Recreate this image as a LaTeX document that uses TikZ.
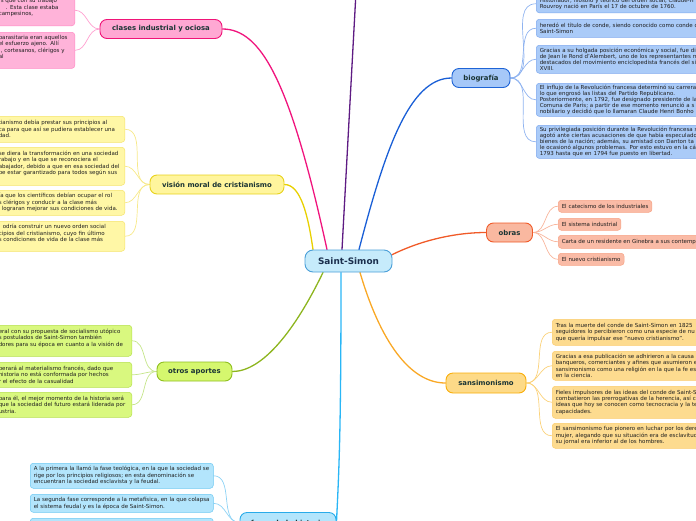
\documentclass[tikz,border=0pt]{standalone}
\usepackage{fontspec}
\setmainfont{DejaVu Sans}
\usetikzlibrary{calc}
\pgfdeclarelayer{bg}
\pgfsetlayers{bg,main}
\definecolor{cenF}{HTML}{C6EBFB}\definecolor{cenD}{HTML}{4A9FD8}\definecolor{cenT}{HTML}{1B2F4D}
\definecolor{lblT}{HTML}{1A3434}\definecolor{leafT}{HTML}{1E1E1E}
\definecolor{pkF}{HTML}{FFA8D3}\definecolor{pkD}{HTML}{F01478}\definecolor{pkE}{HTML}{F0147D}
\definecolor{pkLF}{HTML}{FFB3D9}\definecolor{pkLD}{HTML}{FF8AC4}\definecolor{pkLE}{HTML}{FF9FCF}
\definecolor{ylF}{HTML}{FFF59D}\definecolor{ylD}{HTML}{E8D21C}\definecolor{ylE}{HTML}{E8D000}
\definecolor{ylLF}{HTML}{FFF7A6}\definecolor{ylLD}{HTML}{F5E36A}\definecolor{ylLE}{HTML}{F7E98A}
\definecolor{grF}{HTML}{D5F76E}\definecolor{grD}{HTML}{8FBF1F}\definecolor{grE}{HTML}{8DB51F}
\definecolor{grLF}{HTML}{D9F87F}\definecolor{grLD}{HTML}{B5E04C}\definecolor{grLE}{HTML}{C5E58A}
\definecolor{cyF}{HTML}{B3E5FC}\definecolor{cyD}{HTML}{29ABE9}\definecolor{cyE}{HTML}{29B6F6}
\definecolor{cyLF}{HTML}{B3E5FC}\definecolor{cyLD}{HTML}{6CC8F2}\definecolor{cyLE}{HTML}{8ED3F5}
\definecolor{blF}{HTML}{A6C8F8}\definecolor{blD}{HTML}{1E64D6}\definecolor{blE}{HTML}{1A5FD6}
\definecolor{blLF}{HTML}{AACBF8}\definecolor{blLD}{HTML}{7FA9EE}\definecolor{blLE}{HTML}{8FB3F0}
\definecolor{orF}{HTML}{F9B8A0}\definecolor{orD}{HTML}{F05A28}\definecolor{orE}{HTML}{F05A28}
\definecolor{orLF}{HTML}{FABBA6}\definecolor{orLD}{HTML}{F7A486}\definecolor{orLE}{HTML}{F8B59C}
\definecolor{saF}{HTML}{FDDA88}\definecolor{saD}{HTML}{F9AE0A}\definecolor{saE}{HTML}{F9A825}
\definecolor{saLF}{HTML}{FDDB8F}\definecolor{saLD}{HTML}{FBCB6B}\definecolor{saLE}{HTML}{FBD27A}
\definecolor{puE}{HTML}{5E1B83}
\tikzset{
  mainnode/.style={draw, line width=0.9pt, rounded corners=7pt, inner sep=0pt, minimum height=19pt, text=lblT, font=\bfseries\fontsize{6.9}{8}\selectfont},
  leafbox/.style={draw, line width=0.5pt, rounded corners=3pt, inner xsep=3.5pt, inner ysep=3pt, align=left, text=leafT, font=\fontsize{5.5}{6.5}\selectfont},
  bioleaf/.style={leafbox, inner ysep=2pt, font=\fontsize{5.5}{5.9}\selectfont},
  sanleaf/.style={leafbox, inner ysep=2pt, font=\fontsize{5.5}{6.3}\selectfont},
  mainedge/.style={line width=1.3pt, line cap=round},
  leafedge/.style={line width=0.7pt},
}
\begin{document}
\begin{tikzpicture}[x=1pt,y=-1pt]
\useasboundingbox (0,0) rectangle (696,520);
\clip (0,0) rectangle (696,520);
% central and main nodes
\node[mainnode, fill=cenF, draw=cenD, text=cenT, font=\bfseries\fontsize{8.9}{10}\selectfont, minimum width=87pt, minimum height=22pt, rounded corners=8pt] (c) at (348.5,261) {Saint-Simon};
\node[mainnode, fill=pkF, draw=pkD, minimum width=122pt] (cl) at (161,29) {clases industrial y ociosa};
\node[mainnode, fill=ylF, draw=ylD, minimum width=134pt] (vi) at (217,184.5) {visión moral de cristianismo};
\node[mainnode, fill=grF, draw=grD, minimum width=75pt] (ot) at (194.5,371.5) {otros aportes};
\node[mainnode, fill=cyF, draw=cyD, minimum width=96pt, minimum height=20pt] (fa) at (288,522.5) {fases de la historia};
\node[mainnode, fill=blF, draw=blD, minimum width=58pt] (bi) at (481,78) {biografía};
\node[mainnode, fill=orF, draw=orD, minimum width=46pt] (ob) at (509.5,232.5) {obras};
\node[mainnode, fill=saF, draw=saD, minimum width=80pt, minimum height=20pt] (sa) at (486,383) {sansimonismo};
\coordinate (pu) at (356,-8);
% pink leaves
\node[leafbox, fill=pkLF, draw=pkLD, anchor=south east, text width=72.5pt, minimum height=31pt] (p1) at (75,26) {\hspace*{2pt}s que con su trabajo\\\hspace*{7pt}. Esta clase estaba\\campesinos,\\~};
\node[leafbox, fill=pkLF, draw=pkLD, anchor=north east, text width=72.5pt, minimum height=31pt] (p2) at (75,32) {parasitaria eran aquellos\\el esfuerzo ajeno. Allí\\\hspace*{2pt}, cortesanos, clérigos y al\\~};
% yellow leaves
\node[leafbox, fill=ylLF, draw=ylLD, anchor=north east, text width=122.5pt, minimum height=26pt] (y1) at (125,116) {tianismo debía prestar sus principios al\\ca para que así se pudiera establecer una\\dad.};
\node[leafbox, fill=ylLF, draw=ylLD, anchor=north east, text width=122.5pt, minimum height=38pt] (y2) at (125,147) {se diera la transformación en una sociedad\\rabajo y en la que se reconociera el\\abajador, debido a que en esa sociedad del\\be estar garantizado para todos según sus\\~};
\node[leafbox, fill=ylLF, draw=ylLD, anchor=north east, text width=122.5pt, minimum height=25pt] (y3) at (125,190) {ía que los científicos debían ocupar el rol\\s clérigos y conducir a la clase más\\\hspace*{3pt}lograran mejorar sus condiciones de vida.};
\node[leafbox, fill=ylLF, draw=ylLD, anchor=north east, text width=122.5pt, minimum height=30pt] (y4) at (125,221) {\hspace*{4pt}odría construir un nuevo orden social\\cipios del cristianismo, cuyo fin último\\s condiciones de vida de la clase más\\~};
% green leaves
\node[leafbox, fill=grLF, draw=grLD, anchor=north east, text width=129.5pt, minimum height=31pt] (g1) at (132,325) {eral con su propuesta de socialismo utópico\\s postulados de Saint-Simon también\\dores para su época en cuanto a la visión de\\~};
\node[leafbox, fill=grLF, draw=grLD, anchor=north east, text width=129.5pt, minimum height=25pt] (g2) at (132,362) {perará al materialismo francés, dado que\\historia no está conformada por hechos\\r el efecto de la casualidad};
\node[leafbox, fill=grLF, draw=grLD, anchor=north east, text width=129.5pt, minimum height=25pt] (g3) at (132,392) {para él, el mejor momento de la historia será\\que la sociedad del futuro estará liderada por\\ustria.};
% cyan leaves
\node[leafbox, fill=cyLF, draw=cyLD, anchor=north west, text width=176pt, minimum height=25pt] (b1) at (30,463) {A la primera la llamó la fase teológica, en la que la sociedad se\\rige por los principios religiosos; en esta denominación se\\encuentran la sociedad esclavista y la feudal.};
\node[leafbox, fill=cyLF, draw=cyLD, anchor=north west, text width=176pt, minimum height=18pt] (b2) at (30,494) {La segunda fase corresponde a la metafísica, en la que colapsa\\el sistema feudal y es la época de Saint-Simon.};
\node[leafbox, fill=cyLF, draw=cyLD, anchor=north west, text width=176pt, minimum height=20pt] (b3) at (30,518) {};
% biography leaves
\node[bioleaf, fill=blLF, draw=blLD, anchor=south west, text width=250pt, minimum height=18pt] (r1) at (536,13) {Historiador, filósofo y teórico del orden social, Claude-H\\Rouvroy nació en París el 17 de octubre de 1760.};
\node[bioleaf, fill=blLF, draw=blLD, anchor=north west, text width=250pt, minimum height=18pt] (r2) at (536,19) {heredó el título de conde, siendo conocido como conde d\\Saint-Simon};
\node[bioleaf, fill=blLF, draw=blLD, anchor=north west, text width=250pt, minimum height=28pt] (r3) at (536,45) {Gracias a su holgada posición económica y social, fue di\\de Jean le Rond d'Alembert, uno de los representantes m\\destacados del movimiento enciclopedista francés del si\\XVIII.};
\node[bioleaf, fill=blLF, draw=blLD, anchor=north west, text width=250pt, minimum height=32pt] (r4) at (536,83) {El influjo de la Revolución francesa determinó su carrera\\lo que engrosó las listas del Partido Republicano.\\Posteriormente, en 1792, fue designado presidente de la\\Comuna de París; a partir de ese momento renunció a s\\nobiliario y decidió que lo llamaran Claude Henri Bonho};
\node[bioleaf, fill=blLF, draw=blLD, anchor=north west, text width=250pt, minimum height=33pt] (r5) at (536,125) {Su privilegiada posición durante la Revolución francesa s\\agotó ante ciertas acusaciones de que había especulado\\bienes de la nación; además, su amistad con Danton ta\\le ocasionó algunos problemas. Por esto estuvo en la cá\\1793 hasta que en 1794 fue puesto en libertad.};
% obras leaves
\node[leafbox, fill=orLF, draw=orLD, anchor=north west, inner ysep=1pt, minimum height=12pt] (o1) at (558,200) {El catecismo de los industriales};
\node[leafbox, fill=orLF, draw=orLD, anchor=north west, inner ysep=1pt, minimum height=12pt] (o2) at (558,218) {El sistema industrial};
\node[leafbox, fill=orLF, draw=orLD, anchor=north west, inner ysep=1pt, minimum height=13pt] (o3) at (558,235) {Carta de un residente en Ginebra a sus contemp};
\node[leafbox, fill=orLF, draw=orLD, anchor=north west, inner ysep=1pt, minimum height=12pt] (o4) at (558,253) {El nuevo cristianismo};
% sansimonismo leaves
\node[sanleaf, fill=saLF, draw=saLD, anchor=north west, text width=250pt, minimum height=26pt] (s1) at (552,319) {Tras la muerte del conde de Saint-Simon en 1825\\seguidores lo percibieron como una especie de nu\\que quería impulsar ese "nuevo cristianismo".};
\node[sanleaf, fill=saLF, draw=saLD, anchor=north west, text width=250pt, minimum height=29pt] (s2) at (552,351) {Gracias a esa publicación se adhirieron a la causa\\banqueros, comerciantes y afines que asumieron e\\sansimonismo como una religión en la que la fe es\\en la ciencia.};
\node[sanleaf, fill=saLF, draw=saLD, anchor=north west, text width=250pt, minimum height=32pt] (s3) at (552,386) {Fieles impulsores de las ideas del conde de Saint-S\\combatieron las prerrogativas de la herencia, así c\\ideas que hoy se conocen como tecnocracia y la te\\capacidades.};
\node[sanleaf, fill=saLF, draw=saLD, anchor=north west, text width=250pt, minimum height=25pt] (s4) at (552,423) {El sansimonismo fue pionero en luchar por los dere\\mujer, alegando que su situación era de esclavitud\\su jornal era inferior al de los hombres.};
% connectors
\begin{pgfonlayer}{bg}
\draw[mainedge, pkE] ($(c.north)+(-21.5,0)$) .. controls +(-37,-170) and +(38,0) .. (cl.east);
\draw[mainedge, puE] ($(c.north)+(-6.5,0)$) -- (pu);
\draw[mainedge, blE] ($(c.north)+(10.5,0)$) .. controls +(26,-100) and +(-42,0) .. (bi.west);
\draw[mainedge, orE] ($(c.east)+(-1,-6)$) .. controls +(30,-15) and +(-30,0) .. (ob.west);
\draw[mainedge, saE] ($(c.south)+(11.5,0)$) .. controls +(20,68) and +(-36,0) .. (sa.west);
\draw[mainedge, cyE] ($(c.south)+(-7.5,0)$) .. controls +(0,150) and +(3,-60) .. (fa.east);
\draw[mainedge, ylE] ($(c.north)+(-35.5,0)$) .. controls +(-5,-35) and +(16,0) .. (vi.east);
\draw[mainedge, grE] ($(c.south)+(-25.5,0)$) .. controls +(-28,58) and +(30,0) .. (ot.east);
\foreach \l in {p1,p2} \draw[leafedge, pkLE] (cl.west) to[out=180,in=0] (\l.east);
\foreach \l in {y1,y2,y3,y4} \draw[leafedge, ylLE] (vi.west) to[out=180,in=0] (\l.east);
\foreach \l in {g1,g2,g3} \draw[leafedge, grLE] (ot.west) to[out=180,in=0] (\l.east);
\foreach \l in {b1,b2,b3} \draw[leafedge, cyLE] (fa.west) to[out=180,in=0] (\l.east);
\foreach \l in {r1,r2,r3,r4,r5} \draw[leafedge, blLE] (bi.east) to[out=0,in=180] (\l.west);
\foreach \l in {o1,o2,o3,o4} \draw[leafedge, orLE] (ob.east) to[out=0,in=180] (\l.west);
\foreach \l in {s1,s2,s3,s4} \draw[leafedge, saLE] (sa.east) to[out=0,in=180] (\l.west);
\end{pgfonlayer}
\end{tikzpicture}
\end{document}
